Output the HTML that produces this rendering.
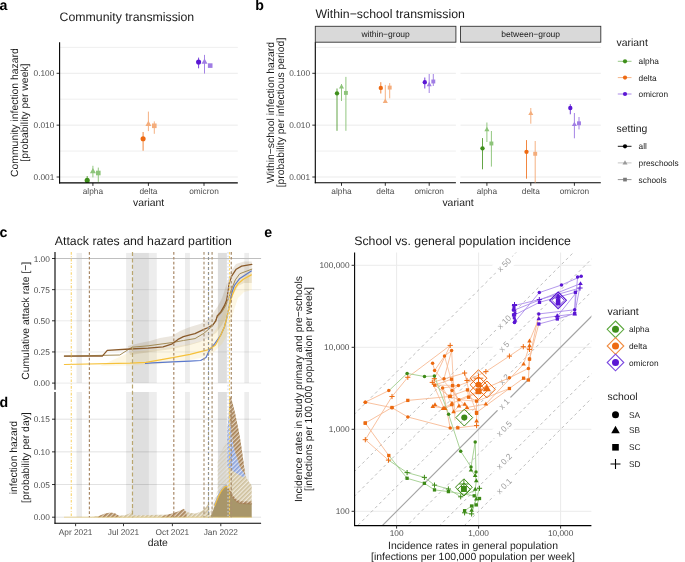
<!DOCTYPE html>
<html><head><meta charset="utf-8"><style>
html,body{margin:0;padding:0;background:#fff;}
svg{display:block;font-family:"Liberation Sans", sans-serif;will-change:transform;}
text{text-rendering:geometricPrecision;}
</style></head><body>
<svg width="685" height="562" viewBox="0 0 685 562">
<rect width="685" height="562" fill="#fff"/>
<text x="-0.60" y="9.70" font-size="14.2" text-anchor="start" fill="#000" font-weight="bold">a</text>
<text x="59.60" y="21.00" font-size="12.3" text-anchor="start" fill="#1a1a1a" font-weight="normal">Community transmission</text>
<line x1="59.60" y1="47.40" x2="237.80" y2="47.40" stroke="#ebebeb" stroke-width="0.8"/>
<line x1="59.60" y1="99.20" x2="237.80" y2="99.20" stroke="#ebebeb" stroke-width="0.8"/>
<line x1="59.60" y1="151.05" x2="237.80" y2="151.05" stroke="#ebebeb" stroke-width="0.8"/>
<line x1="59.60" y1="73.30" x2="237.80" y2="73.30" stroke="#ebebeb" stroke-width="1.0"/>
<line x1="56.60" y1="73.30" x2="59.60" y2="73.30" stroke="#333" stroke-width="1"/>
<text x="54.30" y="76.30" font-size="8.3" text-anchor="end" fill="#4d4d4d" font-weight="normal">0.100</text>
<line x1="59.60" y1="125.15" x2="237.80" y2="125.15" stroke="#ebebeb" stroke-width="1.0"/>
<line x1="56.60" y1="125.15" x2="59.60" y2="125.15" stroke="#333" stroke-width="1"/>
<text x="54.30" y="128.15" font-size="8.3" text-anchor="end" fill="#4d4d4d" font-weight="normal">0.010</text>
<line x1="59.60" y1="177.00" x2="237.80" y2="177.00" stroke="#ebebeb" stroke-width="1.0"/>
<line x1="56.60" y1="177.00" x2="59.60" y2="177.00" stroke="#333" stroke-width="1"/>
<text x="54.30" y="180.00" font-size="8.3" text-anchor="end" fill="#4d4d4d" font-weight="normal">0.001</text>
<line x1="92.90" y1="182.90" x2="92.90" y2="185.90" stroke="#333" stroke-width="1"/>
<text x="92.90" y="193.80" font-size="8.3" text-anchor="middle" fill="#4d4d4d" font-weight="normal">alpha</text>
<line x1="148.40" y1="182.90" x2="148.40" y2="185.90" stroke="#333" stroke-width="1"/>
<text x="148.40" y="193.80" font-size="8.3" text-anchor="middle" fill="#4d4d4d" font-weight="normal">delta</text>
<line x1="204.00" y1="182.90" x2="204.00" y2="185.90" stroke="#333" stroke-width="1"/>
<text x="204.00" y="193.80" font-size="8.3" text-anchor="middle" fill="#4d4d4d" font-weight="normal">omicron</text>
<line x1="87.20" y1="176.00" x2="87.20" y2="183.00" stroke="#3f8f1b" stroke-width="0.95" opacity="0.85"/>
<circle cx="87.20" cy="180.40" r="2.55" fill="#3f8f1b"/>
<line x1="92.90" y1="165.80" x2="92.90" y2="177.40" stroke="#8dc47a" stroke-width="0.95"/>
<polygon points="92.90,167.98 89.90,173.17 95.90,173.17" fill="#8dc47a"/>
<line x1="98.30" y1="167.60" x2="98.30" y2="181.90" stroke="#8dc47a" stroke-width="0.95"/>
<rect x="96.00" y="170.70" width="4.60" height="4.60" fill="#8dc47a"/>
<line x1="143.10" y1="132.00" x2="143.10" y2="150.70" stroke="#ee6a12" stroke-width="0.95" opacity="0.85"/>
<circle cx="143.10" cy="138.80" r="2.55" fill="#ee6a12"/>
<line x1="148.40" y1="111.60" x2="148.40" y2="131.10" stroke="#f4ad7c" stroke-width="0.95"/>
<polygon points="148.40,120.78 145.40,125.97 151.40,125.97" fill="#f4ad7c"/>
<line x1="154.30" y1="121.40" x2="154.30" y2="133.80" stroke="#f4ad7c" stroke-width="0.95"/>
<rect x="152.00" y="123.50" width="4.60" height="4.60" fill="#f4ad7c"/>
<line x1="198.60" y1="57.60" x2="198.60" y2="68.30" stroke="#5b17d4" stroke-width="0.95" opacity="0.85"/>
<circle cx="198.60" cy="62.00" r="2.55" fill="#5b17d4"/>
<line x1="204.50" y1="54.90" x2="204.50" y2="73.60" stroke="#a07de4" stroke-width="0.95"/>
<polygon points="204.50,58.48 201.50,63.67 207.50,63.67" fill="#a07de4"/>
<rect x="207.90" y="63.30" width="4.60" height="4.60" fill="#a07de4"/>
<line x1="59.60" y1="42.30" x2="59.60" y2="183.40" stroke="#000" stroke-width="1.1"/>
<line x1="59.10" y1="182.90" x2="237.80" y2="182.90" stroke="#000" stroke-width="1.1"/>
<text x="148.60" y="206.00" font-size="10.4" text-anchor="middle" fill="#1a1a1a" font-weight="normal">variant</text>
<text x="18.10" y="112.60" font-size="10.4" text-anchor="middle" fill="#1a1a1a" font-weight="normal" transform="rotate(-90 18.10 112.60)">Community infection hazard</text>
<text x="28.10" y="112.60" font-size="10.4" text-anchor="middle" fill="#1a1a1a" font-weight="normal" transform="rotate(-90 28.10 112.60)">[probability per week]</text>
<text x="255.30" y="9.70" font-size="14.2" text-anchor="start" fill="#000" font-weight="bold">b</text>
<text x="315.50" y="17.80" font-size="12.3" text-anchor="start" fill="#1a1a1a" font-weight="normal">Within−school transmission</text>
<rect x="315.30" y="26.30" width="140.60" height="15.90" fill="#d9d9d9" stroke="#333" stroke-width="0.9"/>
<text x="385.60" y="37.00" font-size="8.5" text-anchor="middle" fill="#1a1a1a" font-weight="normal">within−group</text>
<line x1="315.30" y1="47.40" x2="455.90" y2="47.40" stroke="#ebebeb" stroke-width="0.8"/>
<line x1="315.30" y1="99.20" x2="455.90" y2="99.20" stroke="#ebebeb" stroke-width="0.8"/>
<line x1="315.30" y1="151.05" x2="455.90" y2="151.05" stroke="#ebebeb" stroke-width="0.8"/>
<line x1="315.30" y1="73.30" x2="455.90" y2="73.30" stroke="#ebebeb" stroke-width="1.0"/>
<line x1="315.30" y1="125.15" x2="455.90" y2="125.15" stroke="#ebebeb" stroke-width="1.0"/>
<line x1="315.30" y1="177.00" x2="455.90" y2="177.00" stroke="#ebebeb" stroke-width="1.0"/>
<line x1="341.50" y1="182.80" x2="341.50" y2="185.80" stroke="#333" stroke-width="1"/>
<text x="341.50" y="193.80" font-size="8.3" text-anchor="middle" fill="#4d4d4d" font-weight="normal">alpha</text>
<line x1="385.30" y1="182.80" x2="385.30" y2="185.80" stroke="#333" stroke-width="1"/>
<text x="385.30" y="193.80" font-size="8.3" text-anchor="middle" fill="#4d4d4d" font-weight="normal">delta</text>
<line x1="429.20" y1="182.80" x2="429.20" y2="185.80" stroke="#333" stroke-width="1"/>
<text x="429.20" y="193.80" font-size="8.3" text-anchor="middle" fill="#4d4d4d" font-weight="normal">omicron</text>
<line x1="314.80" y1="182.80" x2="455.90" y2="182.80" stroke="#000" stroke-width="1.1"/>
<rect x="460.50" y="26.30" width="140.30" height="15.90" fill="#d9d9d9" stroke="#333" stroke-width="0.9"/>
<text x="530.65" y="37.00" font-size="8.5" text-anchor="middle" fill="#1a1a1a" font-weight="normal">between−group</text>
<line x1="460.50" y1="47.40" x2="600.80" y2="47.40" stroke="#ebebeb" stroke-width="0.8"/>
<line x1="460.50" y1="99.20" x2="600.80" y2="99.20" stroke="#ebebeb" stroke-width="0.8"/>
<line x1="460.50" y1="151.05" x2="600.80" y2="151.05" stroke="#ebebeb" stroke-width="0.8"/>
<line x1="460.50" y1="73.30" x2="600.80" y2="73.30" stroke="#ebebeb" stroke-width="1.0"/>
<line x1="460.50" y1="125.15" x2="600.80" y2="125.15" stroke="#ebebeb" stroke-width="1.0"/>
<line x1="460.50" y1="177.00" x2="600.80" y2="177.00" stroke="#ebebeb" stroke-width="1.0"/>
<line x1="486.90" y1="182.80" x2="486.90" y2="185.80" stroke="#333" stroke-width="1"/>
<text x="486.90" y="193.80" font-size="8.3" text-anchor="middle" fill="#4d4d4d" font-weight="normal">alpha</text>
<line x1="530.80" y1="182.80" x2="530.80" y2="185.80" stroke="#333" stroke-width="1"/>
<text x="530.80" y="193.80" font-size="8.3" text-anchor="middle" fill="#4d4d4d" font-weight="normal">delta</text>
<line x1="574.40" y1="182.80" x2="574.40" y2="185.80" stroke="#333" stroke-width="1"/>
<text x="574.40" y="193.80" font-size="8.3" text-anchor="middle" fill="#4d4d4d" font-weight="normal">omicron</text>
<line x1="460.00" y1="182.80" x2="600.80" y2="182.80" stroke="#000" stroke-width="1.1"/>
<line x1="312.30" y1="73.30" x2="315.30" y2="73.30" stroke="#333" stroke-width="1"/>
<text x="310.00" y="76.30" font-size="8.3" text-anchor="end" fill="#4d4d4d" font-weight="normal">0.100</text>
<line x1="312.30" y1="125.15" x2="315.30" y2="125.15" stroke="#333" stroke-width="1"/>
<text x="310.00" y="128.15" font-size="8.3" text-anchor="end" fill="#4d4d4d" font-weight="normal">0.010</text>
<line x1="312.30" y1="177.00" x2="315.30" y2="177.00" stroke="#333" stroke-width="1"/>
<text x="310.00" y="180.00" font-size="8.3" text-anchor="end" fill="#4d4d4d" font-weight="normal">0.001</text>
<line x1="315.30" y1="42.20" x2="315.30" y2="183.30" stroke="#000" stroke-width="1.1"/>
<line x1="337.00" y1="88.50" x2="337.00" y2="130.80" stroke="#3f8f1b" stroke-width="0.95" opacity="0.85"/>
<circle cx="337.00" cy="93.30" r="2.17" fill="#3f8f1b"/>
<line x1="341.50" y1="84.00" x2="341.50" y2="101.00" stroke="#8dc47a" stroke-width="0.95"/>
<polygon points="341.50,83.96 338.95,88.38 344.05,88.38" fill="#8dc47a"/>
<line x1="345.90" y1="76.90" x2="345.90" y2="130.80" stroke="#8dc47a" stroke-width="0.95"/>
<rect x="343.94" y="90.95" width="3.91" height="3.91" fill="#8dc47a"/>
<line x1="380.80" y1="82.20" x2="380.80" y2="93.50" stroke="#ee6a12" stroke-width="0.95" opacity="0.85"/>
<circle cx="380.80" cy="87.90" r="2.17" fill="#ee6a12"/>
<line x1="385.30" y1="84.90" x2="385.30" y2="102.70" stroke="#f4ad7c" stroke-width="0.95"/>
<polygon points="385.30,98.56 382.75,102.98 387.85,102.98" fill="#f4ad7c"/>
<line x1="389.70" y1="83.10" x2="389.70" y2="98.30" stroke="#f4ad7c" stroke-width="0.95"/>
<rect x="387.75" y="85.64" width="3.91" height="3.91" fill="#f4ad7c"/>
<line x1="424.80" y1="77.50" x2="424.80" y2="88.50" stroke="#5b17d4" stroke-width="0.95" opacity="0.85"/>
<circle cx="424.80" cy="82.20" r="2.17" fill="#5b17d4"/>
<line x1="429.20" y1="74.00" x2="429.20" y2="93.00" stroke="#a07de4" stroke-width="0.95"/>
<polygon points="429.20,81.86 426.65,86.28 431.75,86.28" fill="#a07de4"/>
<line x1="433.30" y1="74.00" x2="433.30" y2="86.00" stroke="#a07de4" stroke-width="0.95"/>
<rect x="431.35" y="79.55" width="3.91" height="3.91" fill="#a07de4"/>
<line x1="482.50" y1="138.10" x2="482.50" y2="169.30" stroke="#3f8f1b" stroke-width="0.95" opacity="0.85"/>
<circle cx="482.50" cy="148.30" r="2.17" fill="#3f8f1b"/>
<line x1="486.90" y1="122.50" x2="486.90" y2="142.00" stroke="#8dc47a" stroke-width="0.95"/>
<polygon points="486.90,126.86 484.35,131.28 489.45,131.28" fill="#8dc47a"/>
<line x1="491.40" y1="131.00" x2="491.40" y2="166.60" stroke="#8dc47a" stroke-width="0.95"/>
<rect x="489.44" y="141.54" width="3.91" height="3.91" fill="#8dc47a"/>
<line x1="526.50" y1="140.10" x2="526.50" y2="178.70" stroke="#ee6a12" stroke-width="0.95" opacity="0.85"/>
<circle cx="526.50" cy="151.80" r="2.17" fill="#ee6a12"/>
<line x1="530.80" y1="108.00" x2="530.80" y2="123.70" stroke="#f4ad7c" stroke-width="0.95"/>
<polygon points="530.80,110.66 528.25,115.08 533.35,115.08" fill="#f4ad7c"/>
<line x1="535.20" y1="141.00" x2="535.20" y2="182.60" stroke="#f4ad7c" stroke-width="0.95"/>
<rect x="533.25" y="151.84" width="3.91" height="3.91" fill="#f4ad7c"/>
<line x1="570.30" y1="104.10" x2="570.30" y2="114.30" stroke="#5b17d4" stroke-width="0.95" opacity="0.85"/>
<circle cx="570.30" cy="108.00" r="2.17" fill="#5b17d4"/>
<line x1="574.40" y1="113.00" x2="574.40" y2="138.30" stroke="#a07de4" stroke-width="0.95"/>
<polygon points="574.40,121.66 571.85,126.08 576.95,126.08" fill="#a07de4"/>
<line x1="579.00" y1="117.00" x2="579.00" y2="129.40" stroke="#a07de4" stroke-width="0.95"/>
<rect x="577.04" y="121.34" width="3.91" height="3.91" fill="#a07de4"/>
<text x="458.00" y="205.90" font-size="10.4" text-anchor="middle" fill="#1a1a1a" font-weight="normal">variant</text>
<text x="274.00" y="112.50" font-size="10.4" text-anchor="middle" fill="#1a1a1a" font-weight="normal" transform="rotate(-90 274.00 112.50)">Within−school infection hazard</text>
<text x="284.00" y="112.50" font-size="10.4" text-anchor="middle" fill="#1a1a1a" font-weight="normal" transform="rotate(-90 284.00 112.50)">[probability per infectious period]</text>
<text x="616.60" y="46.30" font-size="10.4" text-anchor="start" fill="#1a1a1a" font-weight="normal">variant</text>
<line x1="617.80" y1="61.30" x2="631.50" y2="61.30" stroke="#8dc47a" stroke-width="0.9"/>
<circle cx="625.00" cy="61.30" r="2.10" fill="#3f8f1b"/>
<text x="638.60" y="64.30" font-size="8.3" text-anchor="start" fill="#1a1a1a" font-weight="normal">alpha</text>
<line x1="617.80" y1="77.60" x2="631.50" y2="77.60" stroke="#f4ad7c" stroke-width="0.9"/>
<circle cx="625.00" cy="77.60" r="2.10" fill="#ee6a12"/>
<text x="638.60" y="80.60" font-size="8.3" text-anchor="start" fill="#1a1a1a" font-weight="normal">delta</text>
<line x1="617.80" y1="94.00" x2="631.50" y2="94.00" stroke="#a07de4" stroke-width="0.9"/>
<circle cx="625.00" cy="94.00" r="2.10" fill="#5b17d4"/>
<text x="638.60" y="97.00" font-size="8.3" text-anchor="start" fill="#1a1a1a" font-weight="normal">omicron</text>
<text x="616.60" y="131.90" font-size="10.4" text-anchor="start" fill="#1a1a1a" font-weight="normal">setting</text>
<line x1="617.80" y1="146.30" x2="631.50" y2="146.30" stroke="#000" stroke-width="0.9"/>
<circle cx="625.00" cy="146.30" r="2.10" fill="#000"/>
<text x="638.60" y="149.30" font-size="8.3" text-anchor="start" fill="#1a1a1a" font-weight="normal">all</text>
<line x1="617.80" y1="162.90" x2="631.50" y2="162.90" stroke="#bdbdbd" stroke-width="0.9"/>
<polygon points="625.00,160.22 622.50,164.55 627.50,164.55" fill="#9a9a9a"/>
<text x="638.60" y="165.90" font-size="8.3" text-anchor="start" fill="#1a1a1a" font-weight="normal">preschools</text>
<line x1="617.80" y1="179.60" x2="631.50" y2="179.60" stroke="#8a8a8a" stroke-width="0.9"/>
<rect x="623.15" y="177.75" width="3.70" height="3.70" fill="#7a7a7a"/>
<text x="638.60" y="182.60" font-size="8.3" text-anchor="start" fill="#1a1a1a" font-weight="normal">schools</text>
<defs>
<pattern id="hTan" patternUnits="userSpaceOnUse" width="3.0" height="3.0" patternTransform="rotate(45)">
<rect width="3.0" height="3.0" fill="#eee8da"/><rect width="1.6" height="3.0" fill="#cdbf9b"/></pattern>
<pattern id="hBlue" patternUnits="userSpaceOnUse" width="3.0" height="3.0" patternTransform="rotate(45)">
<rect width="3.0" height="3.0" fill="#dde3f3"/><rect width="1.7" height="3.0" fill="#8aa2dc"/></pattern>
<pattern id="hBrown" patternUnits="userSpaceOnUse" width="3.0" height="3.0" patternTransform="rotate(45)">
<rect width="3.0" height="3.0" fill="#e2d3bf"/><rect width="1.7" height="3.0" fill="#a68056"/></pattern>
<pattern id="hTanA" patternUnits="userSpaceOnUse" width="3.0" height="3.0" patternTransform="rotate(45)">
<rect width="1.5" height="3.0" fill="#c8b98e" opacity="0.4"/></pattern>
<pattern id="hTanW" patternUnits="userSpaceOnUse" width="3.0" height="3.0" patternTransform="rotate(45)">
<rect width="3.0" height="3.0" fill="#f6f2ea"/><rect width="1.5" height="3.0" fill="#ddd3b8"/></pattern>
</defs>
<text x="-0.50" y="237.10" font-size="14.2" text-anchor="start" fill="#000" font-weight="bold">c</text>
<text x="54.80" y="244.60" font-size="12.3" text-anchor="start" fill="#1a1a1a" font-weight="normal">Attack rates and hazard partition</text>
<line x1="55.00" y1="383.10" x2="261.10" y2="383.10" stroke="#ebebeb" stroke-width="1.0"/>
<line x1="55.00" y1="351.95" x2="261.10" y2="351.95" stroke="#ebebeb" stroke-width="1.0"/>
<line x1="55.00" y1="320.80" x2="261.10" y2="320.80" stroke="#ebebeb" stroke-width="1.0"/>
<line x1="55.00" y1="289.65" x2="261.10" y2="289.65" stroke="#ebebeb" stroke-width="1.0"/>
<rect x="76.50" y="252.90" width="5.50" height="130.20" fill="#000" fill-opacity="0.072"/>
<rect x="126.10" y="252.90" width="30.70" height="130.20" fill="#000" fill-opacity="0.072"/>
<rect x="185.00" y="252.90" width="4.90" height="130.20" fill="#000" fill-opacity="0.072"/>
<rect x="244.30" y="252.90" width="4.70" height="130.20" fill="#000" fill-opacity="0.072"/>
<rect x="132.90" y="252.90" width="15.90" height="130.20" fill="#000" fill-opacity="0.058"/>
<rect x="217.90" y="252.90" width="9.00" height="130.20" fill="#000" fill-opacity="0.128"/>
<line x1="55.00" y1="258.50" x2="261.10" y2="258.50" stroke="#bfbfbf" stroke-width="1.1"/>
<line x1="55.00" y1="517.20" x2="261.10" y2="517.20" stroke="#e2e2e2" stroke-width="1.0"/>
<line x1="55.00" y1="484.53" x2="261.10" y2="484.53" stroke="#e2e2e2" stroke-width="1.0"/>
<line x1="55.00" y1="451.86" x2="261.10" y2="451.86" stroke="#e2e2e2" stroke-width="1.0"/>
<line x1="55.00" y1="419.19" x2="261.10" y2="419.19" stroke="#e2e2e2" stroke-width="1.0"/>
<rect x="76.50" y="392.00" width="5.50" height="125.20" fill="#000" fill-opacity="0.072"/>
<rect x="126.10" y="392.00" width="30.70" height="125.20" fill="#000" fill-opacity="0.072"/>
<rect x="185.00" y="392.00" width="4.90" height="125.20" fill="#000" fill-opacity="0.072"/>
<rect x="244.30" y="392.00" width="4.70" height="125.20" fill="#000" fill-opacity="0.072"/>
<rect x="132.90" y="392.00" width="15.90" height="125.20" fill="#000" fill-opacity="0.058"/>
<rect x="217.90" y="392.00" width="9.00" height="125.20" fill="#000" fill-opacity="0.128"/>
<polygon points="128.00,346.00 140.00,343.00 150.00,341.00 160.00,338.00 172.00,336.00 180.00,331.00 190.00,327.00 200.00,324.00 208.00,320.00 213.00,313.00 218.00,306.00 222.00,298.00 225.00,289.00 228.00,280.00 231.00,271.00 236.00,264.00 244.00,261.50 251.80,261.50 251.80,283.00 244.00,283.00 238.00,286.00 233.00,295.00 230.00,305.00 227.00,316.00 222.00,325.00 216.00,333.00 208.00,338.00 200.00,342.00 190.00,345.00 172.00,349.00 150.00,352.00 130.00,355.00" fill="#8b6a3a" opacity="0.17"/>
<polygon points="130.00,352.00 150.00,350.00 172.00,347.00 190.00,344.00 205.00,340.00 212.00,335.00 218.00,326.00 222.00,316.00 226.00,302.00 230.00,290.00 236.00,280.00 244.00,274.00 251.80,270.00 251.80,290.00 244.00,292.00 238.00,298.00 234.00,310.00 231.00,322.00 228.00,334.00 222.00,344.00 214.00,352.00 205.00,357.00 190.00,360.00 160.00,364.00 130.00,365.50 100.00,366.00" fill="#f5cf5a" opacity="0.16"/>
<polyline points="64.40,356.10 119.80,355.00 132.00,347.20 148.10,345.80 172.70,342.50 183.40,340.50 195.00,338.60 203.90,333.30 212.80,325.70 217.20,317.20 221.70,312.30 226.10,304.80 228.80,297.70 230.90,290.90 235.30,279.90 239.80,273.70 251.80,269.20" fill="none" stroke="#a38b55" stroke-width="1.0" stroke-linejoin="round" stroke-linecap="round"/>
<polyline points="64.40,356.10 102.30,356.10 107.30,350.30 130.00,349.00 148.10,348.20 163.10,346.80 171.60,344.20 178.00,339.40 183.40,336.70 190.00,334.80 195.00,333.70 203.90,329.30 208.30,327.50 212.80,324.80 215.90,320.80 217.20,315.90 220.80,311.90 224.40,305.70 226.60,300.30 227.50,295.00 229.10,283.40 231.80,275.90 236.20,269.20 241.60,266.10 251.80,264.30" fill="none" stroke="#8a5a2a" stroke-width="1.3" stroke-linejoin="round" stroke-linecap="round"/>
<polyline points="145.50,363.40 152.40,362.80 172.70,361.80 190.00,361.10 200.70,360.50 206.00,357.40 209.50,350.00 212.00,347.00 214.60,343.90 220.80,335.00 224.40,327.00 227.00,317.20 228.80,308.30 230.60,298.50 232.40,291.00 234.40,285.50 239.80,278.40 251.30,271.00" fill="none" stroke="#5a78cc" stroke-width="1.2" stroke-linejoin="round" stroke-linecap="round"/>
<polyline points="64.40,364.50 130.00,363.10 146.00,362.30 172.70,357.70 190.00,354.30 200.70,351.60 207.80,349.80 212.00,347.50 215.50,345.00 220.80,335.00 224.40,327.00 227.00,317.20 228.80,308.30 230.60,300.30 232.40,295.00 235.30,287.90 238.00,283.80 243.30,279.30 251.30,274.90" fill="none" stroke="#f6c13a" stroke-width="1.2" stroke-linejoin="round" stroke-linecap="round"/>
<polygon points="64.40,517.20 205.00,517.20 210.30,516.80 212.50,512.00 214.80,505.60 218.30,496.70 221.00,491.40 224.60,486.90 226.40,486.20 228.10,489.00 231.70,496.00 236.10,501.50 240.60,503.50 251.70,503.80 251.70,517.20" fill="#a8966a"/>
<polygon points="160.00,517.20 165.00,515.50 172.00,514.00 180.00,512.00 185.00,511.00 190.00,513.00 196.00,513.50 202.00,511.00 206.00,507.00 209.00,502.00 209.60,516.50" fill="url(#hTan)"/>
<polygon points="207.00,517.20 210.00,512.00 213.00,503.00 216.00,495.00 217.50,490.00 217.50,462.00 221.00,452.00 227.30,440.00 227.20,488.00 226.40,486.20 224.60,486.90 221.00,491.40 218.30,496.70 214.80,505.60 212.50,512.00 210.30,517.20" fill="url(#hTanA)"/>
<polygon points="227.30,431.00 228.50,415.00 229.50,398.00 230.90,396.90 233.00,405.00 235.00,413.00 237.50,425.00 239.70,436.20 241.50,448.00 243.10,459.30 245.40,475.50 248.00,480.50 251.70,485.50 251.70,503.80 240.60,503.50 236.10,501.50 231.70,496.00 228.10,489.00 227.20,488.50" fill="url(#hTan)"/>
<polygon points="229.00,415.00 230.00,420.00 233.60,447.00 240.00,467.00 245.40,475.50 243.60,477.50 236.00,473.00 230.00,469.00 227.40,467.00 227.30,431.00 228.50,418.00" fill="url(#hBlue)"/>
<polygon points="229.50,398.00 230.90,396.90 233.00,405.00 235.00,413.00 237.50,425.00 239.70,436.20 241.50,448.00 243.10,459.30 245.40,475.50 240.00,467.00 233.60,447.00 230.00,420.00 229.00,415.00" fill="url(#hBrown)"/>
<polygon points="228.10,489.00 231.70,496.00 236.10,501.50 240.60,503.50 251.70,503.80 251.70,501.60 240.60,501.20 236.10,499.20 231.70,493.60 228.60,487.20" fill="url(#hBrown)"/>
<polyline points="228.10,489.00 231.70,496.00 236.10,501.50 240.60,503.50 251.70,503.80" fill="none" stroke="#8a5a2a" stroke-width="0.8" stroke-linejoin="round" stroke-linecap="round" opacity="0.7"/>
<polyline points="214.30,505.00 217.80,496.00 220.60,490.60 224.40,486.10 226.60,485.40" fill="none" stroke="#8fa6e0" stroke-width="0.9" stroke-linejoin="round" stroke-linecap="round"/>
<polyline points="214.80,505.60 218.30,496.70 221.00,491.40 224.60,486.90 226.40,486.20 227.60,487.20" fill="none" stroke="#f2bd3a" stroke-width="1.1" stroke-linejoin="round" stroke-linecap="round"/>
<polygon points="90.00,517.20 96.00,516.20 120.00,515.60 140.00,515.20 160.00,514.80 175.00,514.50 196.00,514.00 209.00,512.00 211.00,517.20" fill="url(#hTan)"/>
<polygon points="96.00,517.20 100.00,515.50 105.00,513.50 110.60,512.60 115.00,513.20 118.00,515.20 120.00,517.20" fill="url(#hBrown)"/>
<polygon points="119.00,517.20 124.00,515.50 129.00,513.80 131.50,512.00 132.30,504.00 133.00,515.50 134.00,517.20" fill="url(#hTan)"/>
<polygon points="160.00,517.20 166.00,515.00 172.00,513.50 178.00,511.50 184.00,508.80 186.00,512.00 187.00,517.20" fill="url(#hBrown)"/>
<polyline points="64.40,517.20 251.70,517.20" fill="none" stroke="#e8c860" stroke-width="0.8" stroke-linejoin="round" stroke-linecap="round" opacity="0.7"/>
<line x1="71.30" y1="252.1" x2="71.30" y2="517.2" stroke="#f9d77a" stroke-width="1.2" stroke-dasharray="2.6 1.6 0.9 1.6" opacity="1.0"/>
<line x1="89.40" y1="252.1" x2="89.40" y2="517.2" stroke="#a88866" stroke-width="1.2" stroke-dasharray="2.7 2.1" opacity="1.0"/>
<line x1="132.50" y1="252.1" x2="132.50" y2="517.2" stroke="#b9a66f" stroke-width="1.2" stroke-dasharray="4 2.3" opacity="1.0"/>
<line x1="173.80" y1="252.1" x2="173.80" y2="517.2" stroke="#a88866" stroke-width="1.2" stroke-dasharray="2.7 2.1" opacity="1.0"/>
<line x1="204.00" y1="252.1" x2="204.00" y2="517.2" stroke="#b09a7e" stroke-width="1.3" stroke-dasharray="2.7 2.1" opacity="1.0"/>
<line x1="208.50" y1="252.1" x2="208.50" y2="517.2" stroke="#9c9478" stroke-width="1.2" stroke-dasharray="3 2" opacity="1.0"/>
<line x1="208.50" y1="252.1" x2="208.50" y2="517.2" stroke="#7f95d0" stroke-width="1.0" stroke-dasharray="1.2 4.2" opacity="0.8"/>
<line x1="212.10" y1="252.1" x2="212.10" y2="517.2" stroke="#b09a7e" stroke-width="1.3" stroke-dasharray="2.7 2.1" opacity="1.0"/>
<line x1="228.00" y1="252.1" x2="228.00" y2="517.2" stroke="#c8d4f0" stroke-width="1.0" stroke-dasharray="1.5 2" opacity="1.0"/>
<line x1="229.50" y1="252.1" x2="229.50" y2="517.2" stroke="#f8d060" stroke-width="1.1" stroke-dasharray="2.4 1.6" opacity="0.85"/>
<line x1="231.30" y1="252.1" x2="231.30" y2="517.2" stroke="#ac9070" stroke-width="1.3" stroke-dasharray="2.7 2.1" opacity="1.0"/>
<line x1="52.00" y1="383.10" x2="55.00" y2="383.10" stroke="#333" stroke-width="1"/>
<text x="49.80" y="386.10" font-size="8.3" text-anchor="end" fill="#4d4d4d" font-weight="normal">0.00</text>
<line x1="52.00" y1="351.95" x2="55.00" y2="351.95" stroke="#333" stroke-width="1"/>
<text x="49.80" y="354.95" font-size="8.3" text-anchor="end" fill="#4d4d4d" font-weight="normal">0.25</text>
<line x1="52.00" y1="320.80" x2="55.00" y2="320.80" stroke="#333" stroke-width="1"/>
<text x="49.80" y="323.80" font-size="8.3" text-anchor="end" fill="#4d4d4d" font-weight="normal">0.50</text>
<line x1="52.00" y1="289.65" x2="55.00" y2="289.65" stroke="#333" stroke-width="1"/>
<text x="49.80" y="292.65" font-size="8.3" text-anchor="end" fill="#4d4d4d" font-weight="normal">0.75</text>
<line x1="52.00" y1="258.50" x2="55.00" y2="258.50" stroke="#333" stroke-width="1"/>
<text x="49.80" y="261.50" font-size="8.3" text-anchor="end" fill="#4d4d4d" font-weight="normal">1.00</text>
<line x1="55.00" y1="252.10" x2="55.00" y2="389.70" stroke="#000" stroke-width="1.1"/>
<text x="28.90" y="320.80" font-size="10.4" text-anchor="middle" fill="#1a1a1a" font-weight="normal" transform="rotate(-90 28.90 320.80)">Cumulative attack rate [−]</text>
<line x1="52.00" y1="517.20" x2="55.00" y2="517.20" stroke="#333" stroke-width="1"/>
<text x="49.80" y="520.20" font-size="8.3" text-anchor="end" fill="#4d4d4d" font-weight="normal">0.00</text>
<line x1="52.00" y1="484.53" x2="55.00" y2="484.53" stroke="#333" stroke-width="1"/>
<text x="49.80" y="487.53" font-size="8.3" text-anchor="end" fill="#4d4d4d" font-weight="normal">0.05</text>
<line x1="52.00" y1="451.86" x2="55.00" y2="451.86" stroke="#333" stroke-width="1"/>
<text x="49.80" y="454.86" font-size="8.3" text-anchor="end" fill="#4d4d4d" font-weight="normal">0.10</text>
<line x1="52.00" y1="419.19" x2="55.00" y2="419.19" stroke="#333" stroke-width="1"/>
<text x="49.80" y="422.19" font-size="8.3" text-anchor="end" fill="#4d4d4d" font-weight="normal">0.15</text>
<line x1="55.00" y1="392.00" x2="55.00" y2="523.70" stroke="#000" stroke-width="1.1"/>
<line x1="54.50" y1="523.20" x2="261.10" y2="523.20" stroke="#000" stroke-width="1.1"/>
<line x1="75.60" y1="523.20" x2="75.60" y2="526.20" stroke="#333" stroke-width="1"/>
<text x="75.60" y="534.80" font-size="8.3" text-anchor="middle" fill="#4d4d4d" font-weight="normal">Apr 2021</text>
<line x1="123.50" y1="523.20" x2="123.50" y2="526.20" stroke="#333" stroke-width="1"/>
<text x="123.50" y="534.80" font-size="8.3" text-anchor="middle" fill="#4d4d4d" font-weight="normal">Jul 2021</text>
<line x1="172.40" y1="523.20" x2="172.40" y2="526.20" stroke="#333" stroke-width="1"/>
<text x="172.40" y="534.80" font-size="8.3" text-anchor="middle" fill="#4d4d4d" font-weight="normal">Oct 2021</text>
<line x1="220.80" y1="523.20" x2="220.80" y2="526.20" stroke="#333" stroke-width="1"/>
<text x="220.80" y="534.80" font-size="8.3" text-anchor="middle" fill="#4d4d4d" font-weight="normal">Jan 2022</text>
<text x="157.80" y="546.20" font-size="10.4" text-anchor="middle" fill="#1a1a1a" font-weight="normal">date</text>
<text x="-0.50" y="406.90" font-size="14.2" text-anchor="start" fill="#000" font-weight="bold">d</text>
<text x="17.30" y="457.60" font-size="10.4" text-anchor="middle" fill="#1a1a1a" font-weight="normal" transform="rotate(-90 17.30 457.60)">infection hazard</text>
<text x="28.60" y="457.60" font-size="10.4" text-anchor="middle" fill="#1a1a1a" font-weight="normal" transform="rotate(-90 28.60 457.60)">[probability per day]</text>
<text x="264.30" y="237.10" font-size="14.2" text-anchor="start" fill="#000" font-weight="bold">e</text>
<text x="354.20" y="245.00" font-size="12.3" text-anchor="start" fill="#1a1a1a" font-weight="normal">School vs. general population incidence</text>
<clipPath id="clipE"><rect x="354.6" y="252.5" width="236.79999999999995" height="273.1"/></clipPath>
<line x1="396.60" y1="252.50" x2="396.60" y2="525.60" stroke="#ebebeb" stroke-width="1.0"/>
<line x1="478.60" y1="252.50" x2="478.60" y2="525.60" stroke="#ebebeb" stroke-width="1.0"/>
<line x1="560.60" y1="252.50" x2="560.60" y2="525.60" stroke="#ebebeb" stroke-width="1.0"/>
<line x1="354.60" y1="511.30" x2="591.40" y2="511.30" stroke="#ebebeb" stroke-width="1.0"/>
<line x1="354.60" y1="429.30" x2="591.40" y2="429.30" stroke="#ebebeb" stroke-width="1.0"/>
<line x1="354.60" y1="347.30" x2="591.40" y2="347.30" stroke="#ebebeb" stroke-width="1.0"/>
<line x1="354.60" y1="265.30" x2="591.40" y2="265.30" stroke="#ebebeb" stroke-width="1.0"/>
<g clip-path="url(#clipE)">
<line x1="349.60" y1="640.30" x2="596.40" y2="393.50" stroke="#bdbdbd" stroke-width="1.0" stroke-dasharray="3 3"/>
<line x1="349.60" y1="615.62" x2="596.40" y2="368.82" stroke="#bdbdbd" stroke-width="1.0" stroke-dasharray="3 3"/>
<line x1="349.60" y1="582.98" x2="596.40" y2="336.18" stroke="#bdbdbd" stroke-width="1.0" stroke-dasharray="3 3"/>
<line x1="349.60" y1="533.62" x2="596.40" y2="286.82" stroke="#bdbdbd" stroke-width="1.0" stroke-dasharray="3 3"/>
<line x1="349.60" y1="500.98" x2="596.40" y2="254.18" stroke="#bdbdbd" stroke-width="1.0" stroke-dasharray="3 3"/>
<line x1="349.60" y1="476.30" x2="596.40" y2="229.50" stroke="#bdbdbd" stroke-width="1.0" stroke-dasharray="3 3"/>
<line x1="349.60" y1="418.98" x2="596.40" y2="172.18" stroke="#bdbdbd" stroke-width="1.0" stroke-dasharray="3 3"/>
<line x1="349.60" y1="558.30" x2="596.40" y2="311.50" stroke="#a3a3a3" stroke-width="1.1"/>
<g transform="translate(504.00 264.58) rotate(-45)"><rect x="-11.40" y="-7.5" width="22.80" height="15" fill="#fff"/><text x="0" y="3.0" font-size="8.3" text-anchor="middle" fill="#9c9c9c">x 50</text></g>
<g transform="translate(504.00 321.90) rotate(-45)"><rect x="-11.40" y="-7.5" width="22.80" height="15" fill="#fff"/><text x="0" y="3.0" font-size="8.3" text-anchor="middle" fill="#9c9c9c">x 10</text></g>
<g transform="translate(504.00 346.58) rotate(-45)"><rect x="-9.10" y="-7.5" width="18.20" height="15" fill="#fff"/><text x="0" y="3.0" font-size="8.3" text-anchor="middle" fill="#9c9c9c">x 5</text></g>
<g transform="translate(504.00 379.22) rotate(-45)"><rect x="-9.10" y="-7.5" width="18.20" height="15" fill="#fff"/><text x="0" y="3.0" font-size="8.3" text-anchor="middle" fill="#9c9c9c">x 2</text></g>
<g transform="translate(504.00 403.90) rotate(-45)"><rect x="-9.10" y="-7.5" width="18.20" height="15" fill="#fff"/><text x="0" y="3.0" font-size="8.3" text-anchor="middle" fill="#9c9c9c">x 1</text></g>
<g transform="translate(504.00 428.58) rotate(-45)"><rect x="-13.70" y="-7.5" width="27.40" height="15" fill="#fff"/><text x="0" y="3.0" font-size="8.3" text-anchor="middle" fill="#9c9c9c">x 0.5</text></g>
<g transform="translate(504.00 461.22) rotate(-45)"><rect x="-13.70" y="-7.5" width="27.40" height="15" fill="#fff"/><text x="0" y="3.0" font-size="8.3" text-anchor="middle" fill="#9c9c9c">x 0.2</text></g>
<g transform="translate(504.00 485.90) rotate(-45)"><rect x="-13.70" y="-7.5" width="27.40" height="15" fill="#fff"/><text x="0" y="3.0" font-size="8.3" text-anchor="middle" fill="#9c9c9c">x 0.1</text></g>
</g>
<polyline points="365.30,402.20 392.00,407.70 407.80,417.00 450.20,428.10 442.60,388.00 458.40,385.60 452.00,390.40 459.00,399.70 509.40,377.80 528.40,368.40 529.50,359.10 538.80,313.90" fill="none" stroke="#f7ba94" stroke-width="0.9" stroke-linejoin="round" stroke-linecap="round"/>
<polyline points="388.80,390.60 365.30,402.20" fill="none" stroke="#f7ba94" stroke-width="0.9" stroke-linejoin="round" stroke-linecap="round"/>
<polyline points="432.60,363.20 434.60,370.40 444.50,356.10 451.60,350.60 444.00,378.70" fill="none" stroke="#f7ba94" stroke-width="0.9" stroke-linejoin="round" stroke-linecap="round"/>
<polyline points="365.30,423.10 392.00,407.50 407.80,400.40 449.80,396.50 434.70,385.10 451.50,379.20 452.60,385.60 450.20,396.30 467.50,389.90 468.60,397.20 476.60,401.10 476.50,412.50 509.40,388.50 523.60,378.20 528.40,380.00 529.50,359.10 538.80,324.00" fill="none" stroke="#f7ba94" stroke-width="0.9" stroke-linejoin="round" stroke-linecap="round"/>
<polyline points="388.50,460.10 365.30,439.70 392.00,396.50 407.80,377.30 450.20,345.40 434.40,378.70 432.30,382.40 464.60,373.00 467.00,380.50 485.90,371.60 509.40,356.10 523.30,346.70 529.50,349.40" fill="none" stroke="#f7ba94" stroke-width="0.9" stroke-linejoin="round" stroke-linecap="round"/>
<polyline points="444.00,408.10 432.80,406.40 435.00,404.80 443.00,408.60 445.10,408.60 451.70,404.80 452.00,403.20 453.60,411.80 459.00,405.90 464.80,404.30 467.00,407.50 485.90,404.00 523.60,364.10 529.50,345.80 529.50,341.00 538.80,318.70" fill="none" stroke="#f7ba94" stroke-width="0.9" stroke-linejoin="round" stroke-linecap="round"/>
<polyline points="388.80,455.50 365.30,423.10" fill="none" stroke="#f7ba94" stroke-width="0.9" stroke-linejoin="round" stroke-linecap="round"/>
<polyline points="450.20,428.10 457.80,427.80 476.60,425.60 476.60,421.00 476.60,413.30" fill="none" stroke="#f7ba94" stroke-width="0.9" stroke-linejoin="round" stroke-linecap="round"/>
<polyline points="451.60,350.60 453.50,385.00 455.00,420.00" fill="none" stroke="#f7ba94" stroke-width="0.8" stroke-linejoin="round" stroke-linecap="round"/>
<polyline points="464.60,373.00 470.00,395.00 476.50,412.50" fill="none" stroke="#f7ba94" stroke-width="0.8" stroke-linejoin="round" stroke-linecap="round"/>
<polyline points="434.60,370.40 452.50,391.20 459.20,399.70 467.00,407.20" fill="none" stroke="#f7ba94" stroke-width="0.8" stroke-linejoin="round" stroke-linecap="round"/>
<polyline points="444.50,356.10 452.80,385.50 459.00,405.90" fill="none" stroke="#f7ba94" stroke-width="0.8" stroke-linejoin="round" stroke-linecap="round"/>
<polyline points="432.30,382.40 444.00,408.10 452.00,403.20 468.50,396.90 486.60,388.50" fill="none" stroke="#f7ba94" stroke-width="0.8" stroke-linejoin="round" stroke-linecap="round"/>
<polyline points="442.70,387.60 452.10,404.50 453.30,411.60 476.50,409.00" fill="none" stroke="#f7ba94" stroke-width="0.8" stroke-linejoin="round" stroke-linecap="round"/>
<polyline points="434.70,385.10 458.70,385.50 478.50,378.20" fill="none" stroke="#f7ba94" stroke-width="0.8" stroke-linejoin="round" stroke-linecap="round"/>
<polyline points="450.30,396.50 459.20,399.70 476.50,401.30 509.40,388.50" fill="none" stroke="#f7ba94" stroke-width="0.8" stroke-linejoin="round" stroke-linecap="round"/>
<polyline points="538.80,313.90 574.70,309.80 577.60,277.00 581.20,276.30 561.50,285.00 539.30,292.60 514.50,322.30" fill="none" stroke="#ab8dea" stroke-width="0.9" stroke-linejoin="round" stroke-linecap="round"/>
<polyline points="538.80,318.70 557.30,316.00 574.70,313.90 580.50,283.60 514.50,310.00" fill="none" stroke="#ab8dea" stroke-width="0.9" stroke-linejoin="round" stroke-linecap="round"/>
<polyline points="538.80,324.00 557.30,319.00 574.70,313.50 575.40,292.30 539.50,302.30 514.50,315.00" fill="none" stroke="#ab8dea" stroke-width="0.9" stroke-linejoin="round" stroke-linecap="round"/>
<polyline points="557.20,316.40 580.00,288.00 539.30,299.60 514.50,305.50" fill="none" stroke="#ab8dea" stroke-width="0.9" stroke-linejoin="round" stroke-linecap="round"/>
<polyline points="389.00,390.60 407.10,373.40 424.50,376.50 434.40,376.00 448.60,414.20 460.70,451.30 471.00,466.90 475.20,441.90 476.00,472.00" fill="none" stroke="#9fcd8c" stroke-width="0.9" stroke-linejoin="round" stroke-linecap="round"/>
<polyline points="388.80,455.50 407.10,478.30 424.40,483.30 434.50,489.90 448.40,491.60 474.20,495.80 479.50,498.50 476.30,504.90 471.60,506.00 464.60,510.70" fill="none" stroke="#9fcd8c" stroke-width="0.9" stroke-linejoin="round" stroke-linecap="round"/>
<polyline points="388.50,460.10 407.10,472.60 424.40,477.40 434.50,485.10 448.40,489.00 460.70,496.80 479.50,488.30 471.60,513.90 464.60,512.80" fill="none" stroke="#9fcd8c" stroke-width="0.9" stroke-linejoin="round" stroke-linecap="round"/>
<polyline points="471.00,470.10 475.20,475.50 476.30,480.80 475.20,489.30 476.30,499.00 471.60,510.30" fill="none" stroke="#9fcd8c" stroke-width="0.9" stroke-linejoin="round" stroke-linecap="round"/>
<circle cx="365.30" cy="402.20" r="1.75" fill="#ec6a10"/>
<circle cx="392.00" cy="407.70" r="1.75" fill="#ec6a10"/>
<circle cx="407.80" cy="417.00" r="1.75" fill="#ec6a10"/>
<circle cx="450.20" cy="428.10" r="1.75" fill="#ec6a10"/>
<circle cx="442.60" cy="388.00" r="1.75" fill="#ec6a10"/>
<circle cx="458.40" cy="385.60" r="1.75" fill="#ec6a10"/>
<circle cx="452.00" cy="390.40" r="1.75" fill="#ec6a10"/>
<circle cx="459.00" cy="399.70" r="1.75" fill="#ec6a10"/>
<circle cx="509.40" cy="377.80" r="1.75" fill="#ec6a10"/>
<circle cx="528.40" cy="368.40" r="1.75" fill="#ec6a10"/>
<circle cx="529.50" cy="359.10" r="1.75" fill="#ec6a10"/>
<circle cx="388.80" cy="390.60" r="1.75" fill="#ec6a10"/>
<circle cx="365.30" cy="402.20" r="1.75" fill="#ec6a10"/>
<circle cx="432.60" cy="363.20" r="1.75" fill="#ec6a10"/>
<circle cx="434.60" cy="370.40" r="1.75" fill="#ec6a10"/>
<circle cx="444.50" cy="356.10" r="1.75" fill="#ec6a10"/>
<circle cx="451.60" cy="350.60" r="1.75" fill="#ec6a10"/>
<circle cx="444.00" cy="378.70" r="1.75" fill="#ec6a10"/>
<rect x="363.65" y="421.45" width="3.30" height="3.30" fill="#ec6a10"/>
<rect x="390.35" y="405.85" width="3.30" height="3.30" fill="#ec6a10"/>
<rect x="406.15" y="398.75" width="3.30" height="3.30" fill="#ec6a10"/>
<rect x="448.15" y="394.85" width="3.30" height="3.30" fill="#ec6a10"/>
<rect x="433.05" y="383.45" width="3.30" height="3.30" fill="#ec6a10"/>
<rect x="449.85" y="377.55" width="3.30" height="3.30" fill="#ec6a10"/>
<rect x="450.95" y="383.95" width="3.30" height="3.30" fill="#ec6a10"/>
<rect x="448.55" y="394.65" width="3.30" height="3.30" fill="#ec6a10"/>
<rect x="465.85" y="388.25" width="3.30" height="3.30" fill="#ec6a10"/>
<rect x="466.95" y="395.55" width="3.30" height="3.30" fill="#ec6a10"/>
<rect x="474.95" y="399.45" width="3.30" height="3.30" fill="#ec6a10"/>
<rect x="474.85" y="410.85" width="3.30" height="3.30" fill="#ec6a10"/>
<rect x="507.75" y="386.85" width="3.30" height="3.30" fill="#ec6a10"/>
<rect x="521.95" y="376.55" width="3.30" height="3.30" fill="#ec6a10"/>
<rect x="526.75" y="378.35" width="3.30" height="3.30" fill="#ec6a10"/>
<rect x="527.85" y="357.45" width="3.30" height="3.30" fill="#ec6a10"/>
<path d="M385.90 460.10H391.10M388.50 457.50V462.70" stroke="#ec6a10" stroke-width="1.0" fill="none"/>
<path d="M362.70 439.70H367.90M365.30 437.10V442.30" stroke="#ec6a10" stroke-width="1.0" fill="none"/>
<path d="M389.40 396.50H394.60M392.00 393.90V399.10" stroke="#ec6a10" stroke-width="1.0" fill="none"/>
<path d="M405.20 377.30H410.40M407.80 374.70V379.90" stroke="#ec6a10" stroke-width="1.0" fill="none"/>
<path d="M447.60 345.40H452.80M450.20 342.80V348.00" stroke="#ec6a10" stroke-width="1.0" fill="none"/>
<path d="M431.80 378.70H437.00M434.40 376.10V381.30" stroke="#ec6a10" stroke-width="1.0" fill="none"/>
<path d="M429.70 382.40H434.90M432.30 379.80V385.00" stroke="#ec6a10" stroke-width="1.0" fill="none"/>
<path d="M462.00 373.00H467.20M464.60 370.40V375.60" stroke="#ec6a10" stroke-width="1.0" fill="none"/>
<path d="M464.40 380.50H469.60M467.00 377.90V383.10" stroke="#ec6a10" stroke-width="1.0" fill="none"/>
<path d="M483.30 371.60H488.50M485.90 369.00V374.20" stroke="#ec6a10" stroke-width="1.0" fill="none"/>
<path d="M506.80 356.10H512.00M509.40 353.50V358.70" stroke="#ec6a10" stroke-width="1.0" fill="none"/>
<path d="M520.70 346.70H525.90M523.30 344.10V349.30" stroke="#ec6a10" stroke-width="1.0" fill="none"/>
<path d="M526.90 349.40H532.10M529.50 346.80V352.00" stroke="#ec6a10" stroke-width="1.0" fill="none"/>
<polygon points="444.00,405.63 441.70,409.61 446.30,409.61" fill="#ec6a10"/>
<polygon points="432.80,403.93 430.50,407.91 435.10,407.91" fill="#ec6a10"/>
<polygon points="435.00,402.33 432.70,406.31 437.30,406.31" fill="#ec6a10"/>
<polygon points="443.00,406.13 440.70,410.11 445.30,410.11" fill="#ec6a10"/>
<polygon points="445.10,406.13 442.80,410.11 447.40,410.11" fill="#ec6a10"/>
<polygon points="451.70,402.33 449.40,406.31 454.00,406.31" fill="#ec6a10"/>
<polygon points="452.00,400.73 449.70,404.71 454.30,404.71" fill="#ec6a10"/>
<polygon points="453.60,409.33 451.30,413.31 455.90,413.31" fill="#ec6a10"/>
<polygon points="459.00,403.43 456.70,407.41 461.30,407.41" fill="#ec6a10"/>
<polygon points="464.80,401.83 462.50,405.81 467.10,405.81" fill="#ec6a10"/>
<polygon points="467.00,405.03 464.70,409.01 469.30,409.01" fill="#ec6a10"/>
<polygon points="485.90,401.53 483.60,405.51 488.20,405.51" fill="#ec6a10"/>
<polygon points="523.60,361.63 521.30,365.61 525.90,365.61" fill="#ec6a10"/>
<polygon points="529.50,343.33 527.20,347.31 531.80,347.31" fill="#ec6a10"/>
<polygon points="529.50,338.53 527.20,342.51 531.80,342.51" fill="#ec6a10"/>
<rect x="387.15" y="453.85" width="3.30" height="3.30" fill="#ec6a10"/>
<rect x="363.65" y="421.45" width="3.30" height="3.30" fill="#ec6a10"/>
<rect x="456.15" y="426.15" width="3.30" height="3.30" fill="#ec6a10"/>
<path d="M474.00 425.60H479.20M476.60 423.00V428.20" stroke="#ec6a10" stroke-width="1.0" fill="none"/>
<polygon points="476.60,418.53 474.30,422.51 478.90,422.51" fill="#ec6a10"/>
<rect x="474.95" y="411.65" width="3.30" height="3.30" fill="#ec6a10"/>
<circle cx="538.80" cy="313.90" r="1.75" fill="#5a16d3"/>
<circle cx="574.70" cy="309.80" r="1.75" fill="#5a16d3"/>
<circle cx="577.60" cy="277.00" r="1.75" fill="#5a16d3"/>
<circle cx="581.20" cy="276.30" r="1.75" fill="#5a16d3"/>
<circle cx="561.50" cy="285.00" r="1.75" fill="#5a16d3"/>
<circle cx="539.30" cy="292.60" r="1.75" fill="#5a16d3"/>
<circle cx="514.50" cy="322.30" r="1.75" fill="#5a16d3"/>
<polygon points="538.80,316.23 536.50,320.21 541.10,320.21" fill="#5a16d3"/>
<polygon points="557.30,313.53 555.00,317.51 559.60,317.51" fill="#5a16d3"/>
<polygon points="574.70,311.43 572.40,315.41 577.00,315.41" fill="#5a16d3"/>
<polygon points="580.50,281.13 578.20,285.11 582.80,285.11" fill="#5a16d3"/>
<polygon points="514.50,307.53 512.20,311.51 516.80,311.51" fill="#5a16d3"/>
<rect x="537.15" y="322.35" width="3.30" height="3.30" fill="#5a16d3"/>
<rect x="555.65" y="317.35" width="3.30" height="3.30" fill="#5a16d3"/>
<rect x="573.05" y="311.85" width="3.30" height="3.30" fill="#5a16d3"/>
<rect x="573.75" y="290.65" width="3.30" height="3.30" fill="#5a16d3"/>
<rect x="537.85" y="300.65" width="3.30" height="3.30" fill="#5a16d3"/>
<rect x="512.85" y="313.35" width="3.30" height="3.30" fill="#5a16d3"/>
<path d="M554.60 316.40H559.80M557.20 313.80V319.00" stroke="#5a16d3" stroke-width="1.0" fill="none"/>
<path d="M577.40 288.00H582.60M580.00 285.40V290.60" stroke="#5a16d3" stroke-width="1.0" fill="none"/>
<path d="M536.70 299.60H541.90M539.30 297.00V302.20" stroke="#5a16d3" stroke-width="1.0" fill="none"/>
<path d="M511.90 305.50H517.10M514.50 302.90V308.10" stroke="#5a16d3" stroke-width="1.0" fill="none"/>
<path d="M512.03 304.50H516.97M514.50 302.03V306.97" stroke="#5a16d3" stroke-width="1.0" fill="none"/>
<rect x="512.43" y="305.93" width="3.13" height="3.13" fill="#5a16d3"/>
<circle cx="513.30" cy="310.00" r="1.66" fill="#5a16d3"/>
<polygon points="515.00,310.15 512.82,313.94 517.18,313.94" fill="#5a16d3"/>
<rect x="511.93" y="313.43" width="3.13" height="3.13" fill="#5a16d3"/>
<circle cx="514.20" cy="318.00" r="1.66" fill="#5a16d3"/>
<polygon points="515.20,317.85 513.02,321.64 517.38,321.64" fill="#5a16d3"/>
<circle cx="514.50" cy="322.60" r="1.66" fill="#5a16d3"/>
<circle cx="407.10" cy="373.40" r="1.75" fill="#3d8a17"/>
<circle cx="424.50" cy="376.50" r="1.75" fill="#3d8a17"/>
<circle cx="434.40" cy="376.00" r="1.75" fill="#3d8a17"/>
<circle cx="448.60" cy="414.20" r="1.75" fill="#3d8a17"/>
<circle cx="460.70" cy="451.30" r="1.75" fill="#3d8a17"/>
<circle cx="471.00" cy="466.90" r="1.75" fill="#3d8a17"/>
<circle cx="475.20" cy="441.90" r="1.75" fill="#3d8a17"/>
<circle cx="476.00" cy="472.00" r="1.75" fill="#3d8a17"/>
<rect x="405.45" y="476.65" width="3.30" height="3.30" fill="#3d8a17"/>
<rect x="422.75" y="481.65" width="3.30" height="3.30" fill="#3d8a17"/>
<rect x="432.85" y="488.25" width="3.30" height="3.30" fill="#3d8a17"/>
<rect x="446.75" y="489.95" width="3.30" height="3.30" fill="#3d8a17"/>
<rect x="472.55" y="494.15" width="3.30" height="3.30" fill="#3d8a17"/>
<rect x="477.85" y="496.85" width="3.30" height="3.30" fill="#3d8a17"/>
<rect x="474.65" y="503.25" width="3.30" height="3.30" fill="#3d8a17"/>
<rect x="469.95" y="504.35" width="3.30" height="3.30" fill="#3d8a17"/>
<rect x="462.95" y="509.05" width="3.30" height="3.30" fill="#3d8a17"/>
<path d="M404.50 472.60H409.70M407.10 470.00V475.20" stroke="#3d8a17" stroke-width="1.0" fill="none"/>
<path d="M421.80 477.40H427.00M424.40 474.80V480.00" stroke="#3d8a17" stroke-width="1.0" fill="none"/>
<path d="M431.90 485.10H437.10M434.50 482.50V487.70" stroke="#3d8a17" stroke-width="1.0" fill="none"/>
<path d="M445.80 489.00H451.00M448.40 486.40V491.60" stroke="#3d8a17" stroke-width="1.0" fill="none"/>
<path d="M458.10 496.80H463.30M460.70 494.20V499.40" stroke="#3d8a17" stroke-width="1.0" fill="none"/>
<path d="M476.90 488.30H482.10M479.50 485.70V490.90" stroke="#3d8a17" stroke-width="1.0" fill="none"/>
<path d="M469.00 513.90H474.20M471.60 511.30V516.50" stroke="#3d8a17" stroke-width="1.0" fill="none"/>
<path d="M462.00 512.80H467.20M464.60 510.20V515.40" stroke="#3d8a17" stroke-width="1.0" fill="none"/>
<polygon points="471.00,467.63 468.70,471.61 473.30,471.61" fill="#3d8a17"/>
<polygon points="475.20,473.03 472.90,477.01 477.50,477.01" fill="#3d8a17"/>
<polygon points="476.30,478.33 474.00,482.31 478.60,482.31" fill="#3d8a17"/>
<polygon points="475.20,486.83 472.90,490.81 477.50,490.81" fill="#3d8a17"/>
<polygon points="476.30,496.53 474.00,500.51 478.60,500.51" fill="#3d8a17"/>
<polygon points="471.60,507.83 469.30,511.81 473.90,511.81" fill="#3d8a17"/>
<polygon points="464.30,409.20 472.70,417.60 464.30,426.00 455.90,417.60" fill="none" stroke="#3d8a17" stroke-width="1.0"/>
<circle cx="464.30" cy="417.60" r="3.06" fill="#3d8a17"/>
<polygon points="463.90,478.80 472.30,487.20 463.90,495.60 455.50,487.20" fill="none" stroke="#3d8a17" stroke-width="1.0"/>
<polygon points="463.90,483.00 470.40,489.50 463.90,496.00 457.40,489.50" fill="none" stroke="#3d8a17" stroke-width="1.0"/>
<rect x="460.93" y="486.03" width="5.94" height="5.94" fill="#3d8a17"/>
<path d="M459.22 484.00H468.58M463.90 479.32V488.68" stroke="#3d8a17" stroke-width="1.0" fill="none"/>
<polygon points="478.50,369.80 486.90,378.20 478.50,386.60 470.10,378.20" fill="none" stroke="#ec6a10" stroke-width="1.0"/>
<path d="M473.69 378.20H483.31M478.50 373.39V383.01" stroke="#ec6a10" stroke-width="1.0" fill="none"/>
<polygon points="478.50,376.40 486.90,384.80 478.50,393.20 470.10,384.80" fill="none" stroke="#ec6a10" stroke-width="1.0"/>
<circle cx="478.50" cy="384.80" r="3.06" fill="#ec6a10"/>
<polygon points="478.50,382.80 486.90,391.20 478.50,399.60 470.10,391.20" fill="none" stroke="#ec6a10" stroke-width="1.0"/>
<rect x="475.53" y="388.23" width="5.94" height="5.94" fill="#ec6a10"/>
<polygon points="486.90,381.00 495.30,389.40 486.90,397.80 478.50,389.40" fill="none" stroke="#ec6a10" stroke-width="1.0"/>
<polygon points="486.90,384.28 482.88,391.25 490.92,391.25" fill="#ec6a10"/>
<polygon points="558.10,292.00 566.40,300.30 558.10,308.60 549.80,300.30" fill="none" stroke="#5a16d3" stroke-width="1.1"/>
<polygon points="558.10,294.10 564.30,300.30 558.10,306.50 551.90,300.30" fill="none" stroke="#5a16d3" stroke-width="0.8"/>
<polygon points="558.10,293.29 555.11,298.47 561.09,298.47" fill="#5a16d3"/>
<rect x="555.79" y="300.69" width="4.62" height="4.62" fill="#5a16d3"/>
<circle cx="558.10" cy="300.00" r="2.27" fill="#5a16d3"/>
<line x1="354.60" y1="252.50" x2="354.60" y2="526.10" stroke="#000" stroke-width="1.1"/>
<line x1="354.10" y1="525.60" x2="591.40" y2="525.60" stroke="#000" stroke-width="1.1"/>
<line x1="351.60" y1="511.30" x2="354.60" y2="511.30" stroke="#333" stroke-width="1"/>
<text x="349.50" y="514.30" font-size="8.3" text-anchor="end" fill="#4d4d4d" font-weight="normal">100</text>
<line x1="351.60" y1="429.30" x2="354.60" y2="429.30" stroke="#333" stroke-width="1"/>
<text x="349.50" y="432.30" font-size="8.3" text-anchor="end" fill="#4d4d4d" font-weight="normal">1,000</text>
<line x1="351.60" y1="347.30" x2="354.60" y2="347.30" stroke="#333" stroke-width="1"/>
<text x="349.50" y="350.30" font-size="8.3" text-anchor="end" fill="#4d4d4d" font-weight="normal">10,000</text>
<line x1="351.60" y1="265.30" x2="354.60" y2="265.30" stroke="#333" stroke-width="1"/>
<text x="349.50" y="268.30" font-size="8.3" text-anchor="end" fill="#4d4d4d" font-weight="normal">100,000</text>
<line x1="396.60" y1="525.60" x2="396.60" y2="528.60" stroke="#333" stroke-width="1"/>
<text x="396.60" y="536.00" font-size="8.3" text-anchor="middle" fill="#4d4d4d" font-weight="normal">100</text>
<line x1="478.60" y1="525.60" x2="478.60" y2="528.60" stroke="#333" stroke-width="1"/>
<text x="478.60" y="536.00" font-size="8.3" text-anchor="middle" fill="#4d4d4d" font-weight="normal">1,000</text>
<line x1="560.60" y1="525.60" x2="560.60" y2="528.60" stroke="#333" stroke-width="1"/>
<text x="560.60" y="536.00" font-size="8.3" text-anchor="middle" fill="#4d4d4d" font-weight="normal">10,000</text>
<text x="473.00" y="549.00" font-size="10.4" text-anchor="middle" fill="#1a1a1a" font-weight="normal">Incidence rates in general population</text>
<text x="473.00" y="559.50" font-size="10.4" text-anchor="middle" fill="#1a1a1a" font-weight="normal">[infections per 100,000 population per week]</text>
<text x="301.70" y="389.00" font-size="10.4" text-anchor="middle" fill="#1a1a1a" font-weight="normal" transform="rotate(-90 301.70 389.00)">Incidence rates in study primary and pre−schools</text>
<text x="312.30" y="389.00" font-size="10.4" text-anchor="middle" fill="#1a1a1a" font-weight="normal" transform="rotate(-90 312.30 389.00)">[infections per 100,000 population per week]</text>
<text x="607.50" y="314.70" font-size="10.4" text-anchor="start" fill="#1a1a1a" font-weight="normal">variant</text>
<polygon points="615.5,321.00 623.8,329.30 615.5,337.60 607.2,329.30" fill="none" stroke="#5da83e" stroke-width="1.1"/>
<circle cx="615.50" cy="329.30" r="3.50" fill="#3f8f1b"/>
<text x="629.00" y="332.30" font-size="8.3" text-anchor="start" fill="#1a1a1a" font-weight="normal">alpha</text>
<polygon points="615.5,337.70 623.8,346.00 615.5,354.30 607.2,346.00" fill="none" stroke="#f08a3e" stroke-width="1.1"/>
<circle cx="615.50" cy="346.00" r="3.50" fill="#ee6a12"/>
<text x="629.00" y="349.00" font-size="8.3" text-anchor="start" fill="#1a1a1a" font-weight="normal">delta</text>
<polygon points="615.5,354.20 623.8,362.50 615.5,370.80 607.2,362.50" fill="none" stroke="#7a48e0" stroke-width="1.1"/>
<circle cx="615.50" cy="362.50" r="3.50" fill="#5b17d4"/>
<text x="629.00" y="365.50" font-size="8.3" text-anchor="start" fill="#1a1a1a" font-weight="normal">omicron</text>
<text x="607.50" y="399.90" font-size="10.4" text-anchor="start" fill="#1a1a1a" font-weight="normal">school</text>
<circle cx="615.50" cy="414.80" r="3.50" fill="#000"/>
<text x="629.00" y="417.80" font-size="8.3" text-anchor="start" fill="#1a1a1a" font-weight="normal">SA</text>
<polygon points="615.50,425.84 611.25,433.20 619.75,433.20" fill="#000"/>
<text x="629.00" y="433.40" font-size="8.3" text-anchor="start" fill="#1a1a1a" font-weight="normal">SB</text>
<rect x="612.20" y="444.00" width="6.60" height="6.60" fill="#000"/>
<text x="629.00" y="450.30" font-size="8.3" text-anchor="start" fill="#1a1a1a" font-weight="normal">SC</text>
<path d="M610.50 464.00H620.50M615.50 459.00V469.00" stroke="#000" stroke-width="1.1" fill="none"/>
<text x="629.00" y="467.00" font-size="8.3" text-anchor="start" fill="#1a1a1a" font-weight="normal">SD</text>
</svg></body></html>
